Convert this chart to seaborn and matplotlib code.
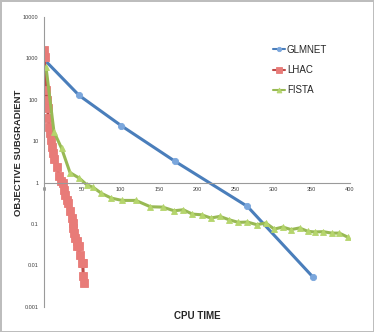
import numpy as np
import pandas as pd
import matplotlib as mpl
mpl.use('agg')
import matplotlib.pyplot as plt
import seaborn as sns

# values
glmnet_t = [0, 46, 101, 171, 266, 352]
glmnet_v = [950, 127, 23.6, 3.28, 0.264, 0.0051]

lhac_t = [1.3, 0, 1.3, 2.6, 3.5, 4.8, 5.6, 7, 7.8, 9, 10, 11.3, 13.5, 16.6,
          20, 21.8, 25.2, 26.5, 27.5, 29.6, 31.8, 34, 34, 36.2, 37.5, 38.3,
          39.2, 40.5, 42.7, 46.1, 43.5, 46.1, 47, 49.3, 50.6, 49.3, 51.4, 52.3, 52.3]
lhac_v = [1870, 1580, 300, 170, 98, 63, 36, 21.5, 15.7, 10.7, 7.4, 5.2, 3.7, 2.4,
          1.4, 1.06, 0.97, 0.67, 0.5, 0.38, 0.32, 0.24, 0.18, 0.139, 0.105, 0.08,
          0.06, 0.046, 0.038, 0.036, 0.029, 0.024, 0.018, 0.014, 0.0115, 0.0087,
          0.0054, 0.0042, 0.0034]

fista_t = [2.6, 13, 23, 34, 46, 56, 64, 75, 88, 102, 120, 139, 155, 170, 182,
           194, 206, 218, 230, 242, 254, 266, 278, 290, 301, 312, 323, 334,
           345, 354, 365, 376, 386, 397]
fista_v = [620, 16.9, 6.7, 1.74, 1.28, 0.88, 0.77, 0.55, 0.42, 0.37, 0.37, 0.26,
           0.255, 0.208, 0.22, 0.173, 0.166, 0.139, 0.152, 0.126, 0.109, 0.111,
           0.096, 0.105, 0.075, 0.084, 0.073, 0.08, 0.066, 0.064, 0.065, 0.06,
           0.06, 0.048]

ytick_vals = [0.001, 0.01, 0.1, 1, 10, 100, 1000, 10000]
ytick_labels = ['0.001', '0.01', '0.1', '1', '10', '100', '1000', '10000']
xtick_vals = [0, 50, 100, 150, 200, 250, 300, 350, 400]

sns.set_style('white')
plt.rcParams['font.family'] = ['Liberation Sans', 'DejaVu Sans']

fig = plt.figure(figsize=(3.74, 3.32), dpi=100, edgecolor='#bdbdbd', linewidth=2)
ax = fig.add_axes([44/374, 1 - 306.7/332, (350 - 44)/374, (306.7 - 17)/332])

series = [
    ('GLMNET', glmnet_t, glmnet_v, '#4a7ebb', '#7aa6dc', 'o', 4.5),
    ('LHAC', lhac_t, lhac_v, '#be4b48', '#e87b78', 's', 5.5),
    ('FISTA', fista_t, fista_v, '#98b954', '#b5d56d', '^', 5),
]
for name, t, v, lc, mc, mk, ms in series:
    df = pd.DataFrame({'cpu': t, 'val': v})
    sns.lineplot(data=df, x='cpu', y='val', sort=False, ax=ax, color=lc,
                 linewidth=2.2, marker=mk, markersize=ms, markerfacecolor=mc,
                 markeredgecolor=mc, markeredgewidth=0.6, label=name)

ax.set_yscale('log')
ax.set_ylim(0.001, 10000)
ax.set_xlim(0, 400)
ax.set_yticks(ytick_vals)
ax.set_yticklabels(ytick_labels)
ax.minorticks_off()
ax.set_xticks(xtick_vals)
ax.set_xticklabels([str(x) for x in xtick_vals])
ax.tick_params(labelsize=4, colors='#404040', length=2, width=0.6, pad=2)
ax.tick_params(axis='x', direction='in', pad=3)

ax.spines['bottom'].set_position(('data', 1))
for s in ['top', 'right']:
    ax.spines[s].set_visible(False)
for s in ['left', 'bottom']:
    ax.spines[s].set_color('#9a9a9a')
    ax.spines[s].set_linewidth(0.8)

ax.set_xlabel('')
ax.set_ylabel('')
fig.text(19/374, 1 - 153/332, 'OBJECTIVE SUBGRADIENT', rotation=90,
         ha='center', va='center', fontsize=6.8, fontweight='bold')
fig.text(197/374, 1 - 316/332, 'CPU TIME', ha='center', va='center',
         fontsize=7, fontweight='bold')

leg = ax.legend(loc='upper left', bbox_to_anchor=(264/374, 1 - 36/332),
                bbox_transform=fig.transFigure, frameon=False, fontsize=7,
                handlelength=1.3, handletextpad=0.15, labelspacing=1.05,
                markerscale=0.7)
for h in leg.get_lines():
    h.set_linewidth(1.5)

fig.savefig('out.png', dpi=100, edgecolor=fig.get_edgecolor())
